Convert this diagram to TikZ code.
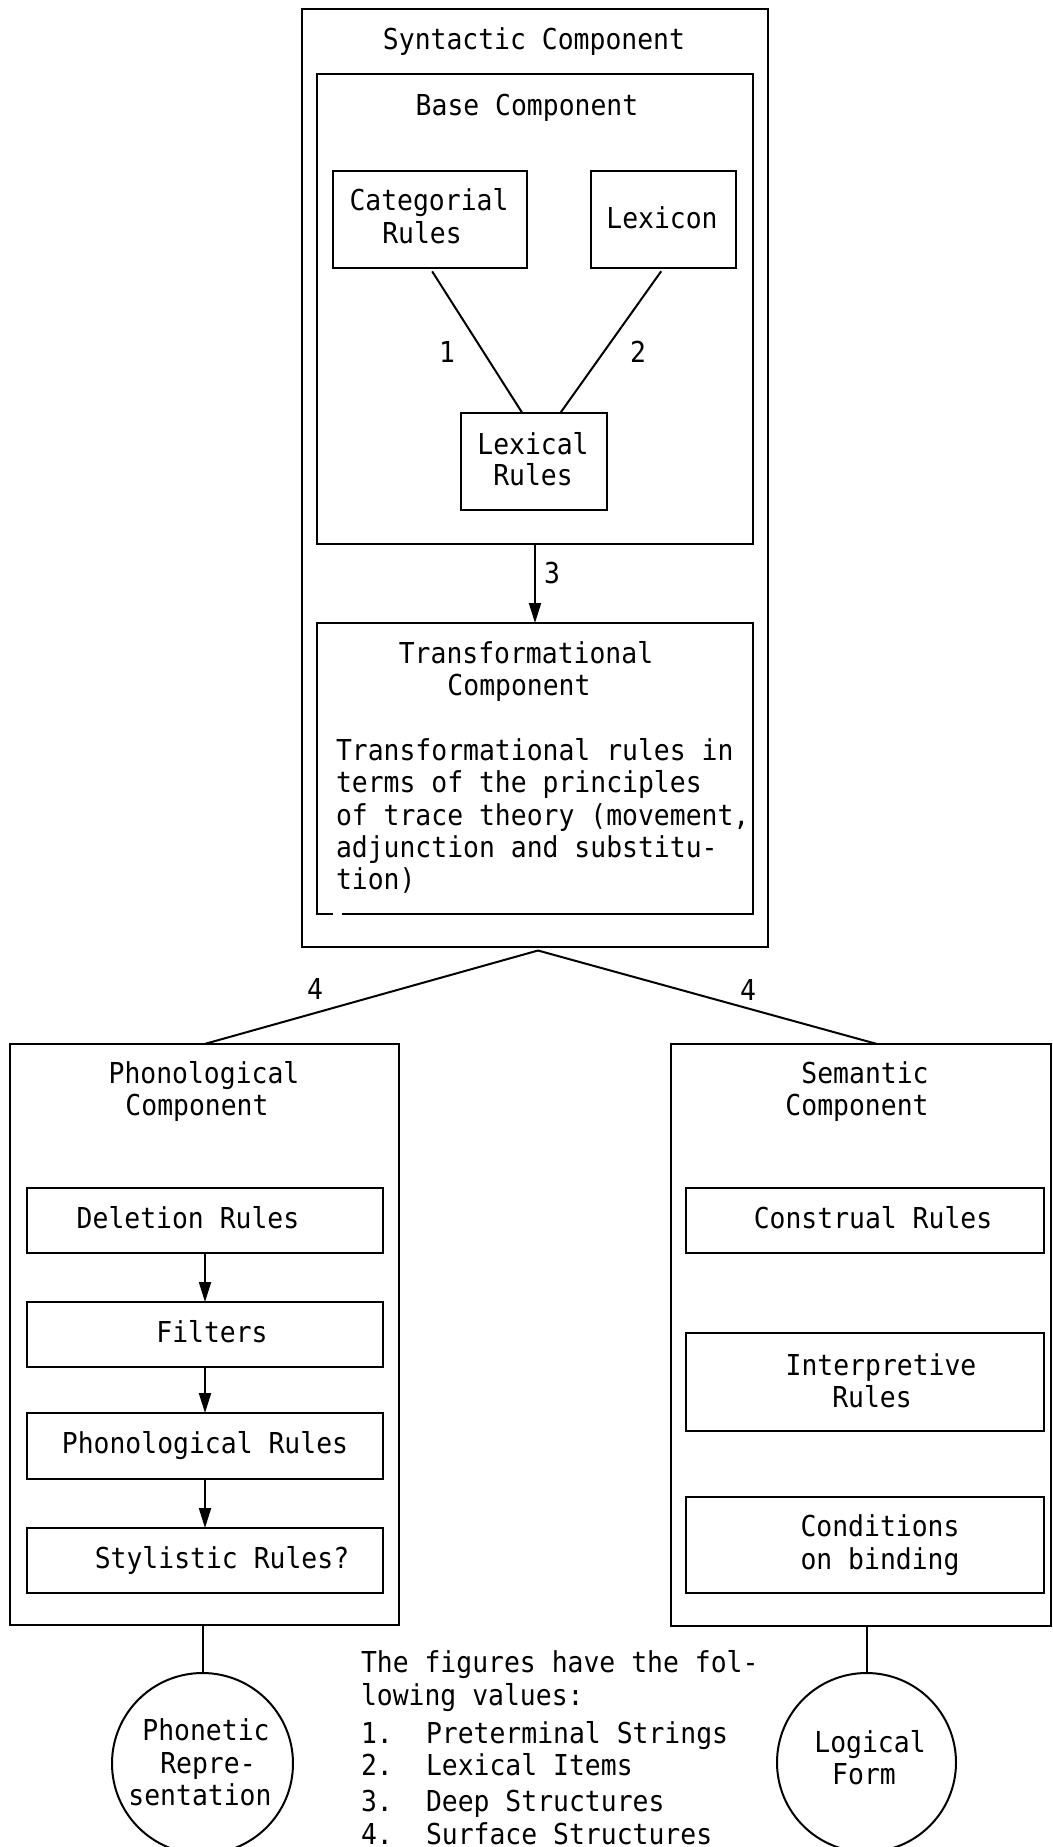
\documentclass[tikz,border=0pt]{standalone}
\usepackage{fontspec}
\setmonofont[FakeStretch=0.917]{DejaVu Sans Mono}
\usetikzlibrary{arrows.meta,calc}
\begin{document}
\begin{tikzpicture}[x=0.5pt,y=-0.5pt,
  every node/.style={inner sep=0pt, outer sep=0pt},
  frame/.style={draw, rectangle, line width=1pt},
  tt/.style={font=\fontsize{14.4}{16}\selectfont\ttfamily},
  lbl/.style={tt, anchor=base},
  lbll/.style={tt, anchor=base west},
  link/.style={line width=1pt},
  flow/.style={line width=1pt, -{Triangle[length=10pt,width=6pt]}},
  ring/.style={draw, circle, line width=1pt}]
\useasboundingbox (0,0) rectangle (1053,1847);
\clip (0,0) rectangle (1053,1847);
\fill[white] (0,0) rectangle (1053,1847);

% ---- syntactic component ----
\node[frame, minimum width=233pt, minimum height=469pt] (syn) at (535,477.5) {};
\node[lbl] (synT) at (534,49) {Syntactic Component};
\node[frame, minimum width=218pt, minimum height=235pt] (base) at (535,309) {};
\node[lbl] (baseT) at (527,115) {Base Component};

\node[frame, minimum width=97pt, minimum height=48.5pt] (cat) at (430,219.5) {};
\node[lbl] (catT1) at (429,210) {Categorial};
\node[lbl] (catT2) at (422,243) {Rules};
\node[frame, minimum width=72.5pt, minimum height=48.5pt] (lex) at (663.5,219.5) {};
\node[lbl] (lexT) at (662,228) {Lexicon};
\node[frame, minimum width=73pt, minimum height=48.5pt] (lexr) at (534,461.5) {};
\node[lbl] (lexrT1) at (533,454) {Lexical};
\node[lbl] (lexrT2) at (533,485) {Rules};
\node[lbl] (n1) at (447,362) {1};
\node[lbl] (n2) at (638,362) {2};

% transformational box: outline drawn by hand, with the small break
% in its bottom edge near the left corner
\node[minimum width=218pt, minimum height=145.5pt] (trans) at (535,768.5) {};
\draw[link] ($(trans.south west)+(16,0)$) -- (trans.south west) -- (trans.north west)
  -- (trans.north east) -- (trans.south east) -- ($(trans.south west)+(25,0)$);
\node[lbl] (transT1) at (526,663) {Transformational};
\node[lbl] (transT2) at (519,695) {Component};
\node[lbll] (tb1) at (336,760) {Transformational rules in};
\node[lbll] (tb2) at (336,792) {terms of the principles};
\node[lbll] (tb3) at (336,825) {of trace theory (movement,};
\node[lbll] (tb4) at (336,857) {adjunction and substitu-};
\node[lbll] (tb5) at (336,889) {tion)};
\node[lbl] (n3) at (552,583) {3};

% ---- phonological component ----
\node[frame, minimum width=194.5pt, minimum height=290.5pt] (phon) at (204.5,1334.5) {};
\node[lbl] (phonT1) at (204,1083) {Phonological};
\node[lbl] (phonT2) at (197,1115) {Component};
\node[frame, minimum width=178pt, minimum height=32.5pt] (del) at (205,1220.5) {};
\node[lbl] (delT) at (188,1228) {Deletion Rules};
\node[frame, minimum width=178pt, minimum height=32.5pt] (filt) at (205,1334.5) {};
\node[lbl] (filtT) at (212,1342) {Filters};
\node[frame, minimum width=178pt, minimum height=33pt] (prul) at (205,1446) {};
\node[lbl] (prulT) at (205,1453) {Phonological Rules};
\node[frame, minimum width=178pt, minimum height=32.5pt] (styl) at (205,1560.5) {};
\node[lbl] (stylT) at (222,1568) {Stylistic Rules?};

% ---- semantic component ----
\node[frame, minimum width=190pt, minimum height=291pt] (sem) at (861,1335) {};
\node[lbl] (semT1) at (865,1083) {Semantic};
\node[lbl] (semT2) at (857,1115) {Component};
\node[frame, minimum width=179pt, minimum height=32.5pt] (cons) at (865,1220.5) {};
\node[lbl] (consT) at (873,1228) {Construal Rules};
\node[frame, minimum width=179pt, minimum height=49pt] (interp) at (865,1382) {};
\node[lbl] (interpT1) at (881,1375) {Interpretive};
\node[lbl] (interpT2) at (872,1407) {Rules};
\node[frame, minimum width=179pt, minimum height=48pt] (cond) at (865,1545) {};
\node[lbl] (condT1) at (880,1536) {Conditions};
\node[lbl] (condT2) at (880,1569) {on binding};

\node[lbl] (n4a) at (315,999) {4};
\node[lbl] (n4b) at (748,1000) {4};

% ---- outputs ----
\node[ring, minimum size=90.5pt] (phc) at (202.5,1763.5) {};
\node[lbl] (phcT1) at (206,1740) {Phonetic};
\node[lbl] (phcT2) at (208,1773) {Repre-};
\node[lbl] (phcT3) at (200,1805) {sentation};
\node[ring, minimum size=89.5pt] (lfc) at (866.5,1762.5) {};
\node[lbl] (lfcT1) at (870,1752) {Logical};
\node[lbl] (lfcT2) at (864,1784) {Form};

% ---- key ----
\node[lbll] (k0) at (361,1672) {The figures have the fol-};
\node[lbll] (k00) at (361,1705) {lowing values:};
\node[lbll] (k1) at (361,1743) {1.};
\node[lbll] (k1t) at (426,1743) {Preterminal Strings};
\node[lbll] (k2) at (361,1775) {2.};
\node[lbll] (k2t) at (426,1775) {Lexical Items};
\node[lbll] (k3) at (361,1811) {3.};
\node[lbll] (k3t) at (426,1811) {Deep Structures};
\node[lbll] (k4) at (361,1844) {4.};
\node[lbll] (k4t) at (426,1844) {Surface Structures};

% ---- connectors ----
\draw[link, shorten <=2pt] (cat.south) -- ($(lexr.north west)!0.42!(lexr.north east)$);
\draw[link, shorten <=2pt] (lex.south) -- ($(lexr.north west)!0.68!(lexr.north east)$);
\draw[flow] (base.south) -- (trans.north);
\draw[link] ($(syn.south)+(3,4)$) -- (phon.north);
\draw[link] ($(syn.south)+(3,4)$) -- ($(sem.north)+(16,0)$);
\draw[flow] (del.south) -- (filt.north);
\draw[flow] (filt.south) -- (prul.north);
\draw[flow] (prul.south) -- (styl.north);
\draw[link] (phc.north) -- (phc.north |- phon.south);
\draw[link] (lfc.north) -- (lfc.north |- sem.south);
\end{tikzpicture}
\end{document}
